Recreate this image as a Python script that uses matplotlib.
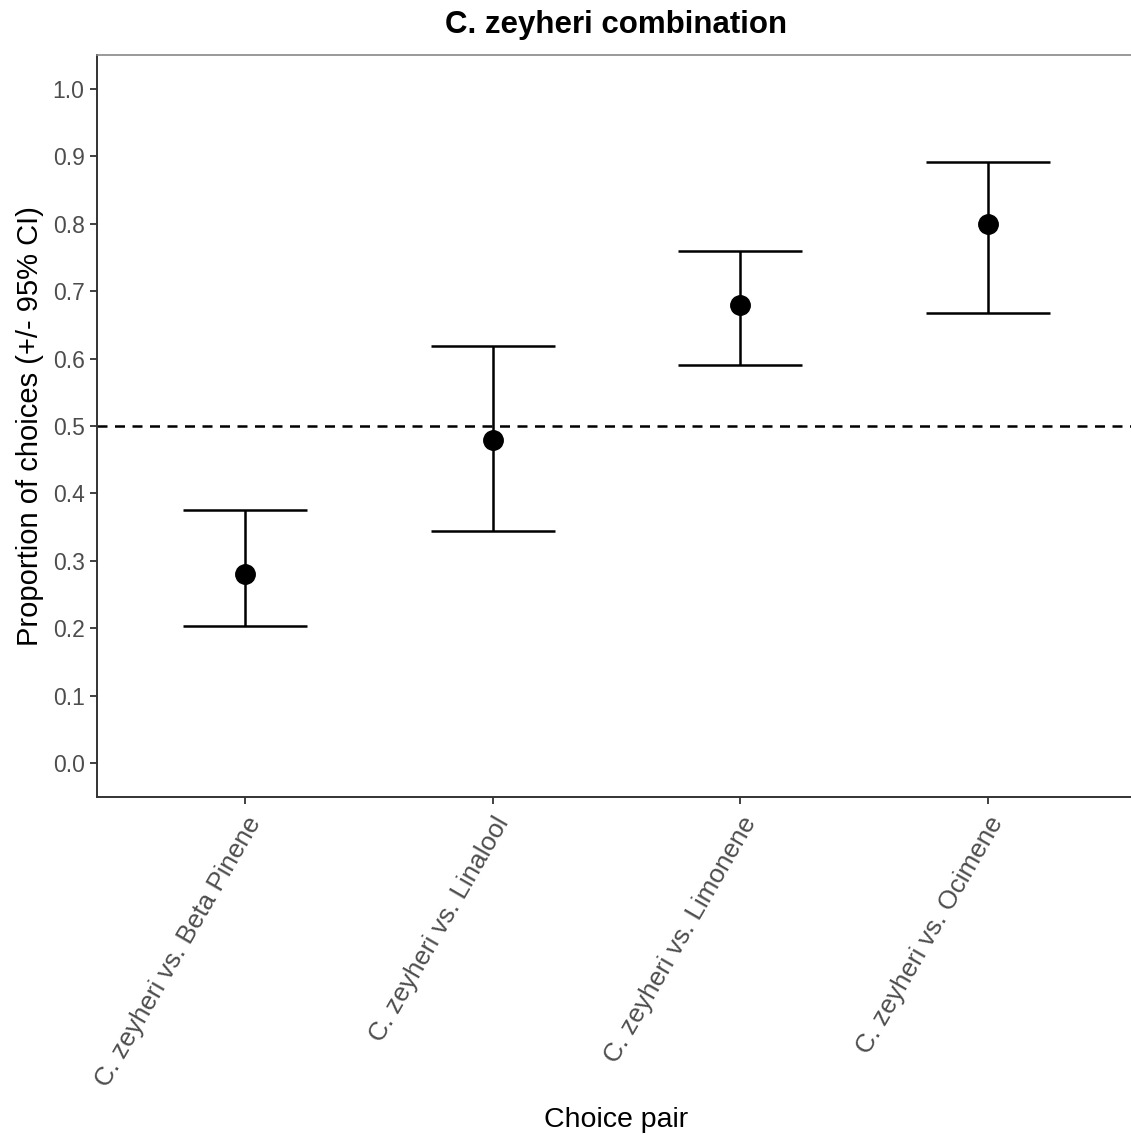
import matplotlib.pyplot as plt

plt.rcParams['font.family'] = ['Liberation Sans', 'DejaVu Sans']

pairs = ['C. zeyheri vs. Beta Pinene', 'C. zeyheri vs. Linalool',
         'C. zeyheri vs. Limonene', 'C. zeyheri vs. Ocimene']
proportion = [0.28, 0.48, 0.68, 0.80]
ci_low = [0.203, 0.345, 0.590, 0.667]
ci_high = [0.375, 0.619, 0.760, 0.892]

fig = plt.figure(figsize=(11.31, 11.35), dpi=100)
ax = fig.add_axes([0.0858, 0.2978, 0.9186, 0.6537])

x = list(range(1, len(pairs) + 1))
yerr = [[p - lo for p, lo in zip(proportion, ci_low)],
        [hi - p for p, hi in zip(proportion, ci_high)]]
ax.errorbar(x, proportion, yerr=yerr, fmt='none', ecolor='black',
            elinewidth=1.8, capsize=44.6, capthick=1.8, zorder=2)
ax.plot(x, proportion, 'o', color='black', markersize=14, zorder=3)
ax.axhline(0.5, color='black', lw=1.8, ls=(0, (4, 3)), zorder=1)

ax.set_xlim(0.4, 4.6)
ax.set_ylim(-0.05, 1.05)
ax.set_yticks([i / 10 for i in range(11)])
ax.set_yticklabels([f'{i / 10:.1f}' for i in range(11)])
ax.set_xticks(x)
ax.set_xticklabels(pairs, rotation=60, ha='right', va='top', rotation_mode='anchor')

ax.tick_params(axis='both', colors='#333333', labelcolor='#4d4d4d',
               length=5, width=1.3)
ax.tick_params(axis='y', labelsize=16.5, pad=4)
ax.tick_params(axis='x', labelsize=18.8, pad=6)
for side in ['left', 'bottom']:
    ax.spines[side].set_color('#333333')
    ax.spines[side].set_linewidth(1.4)
ax.spines['top'].set_color('#888888')
ax.spines['top'].set_linewidth(1.2)
ax.spines['right'].set_visible(False)

ax.set_xlabel('Choice pair', fontsize=20.5, labelpad=12)
ax.set_ylabel('Proportion of choices (+/- 95% CI)', fontsize=21, labelpad=6)
ax.set_title('C. zeyheri combination', fontsize=22.5, fontweight='bold', pad=16)

fig.savefig('out.png', dpi=100)
